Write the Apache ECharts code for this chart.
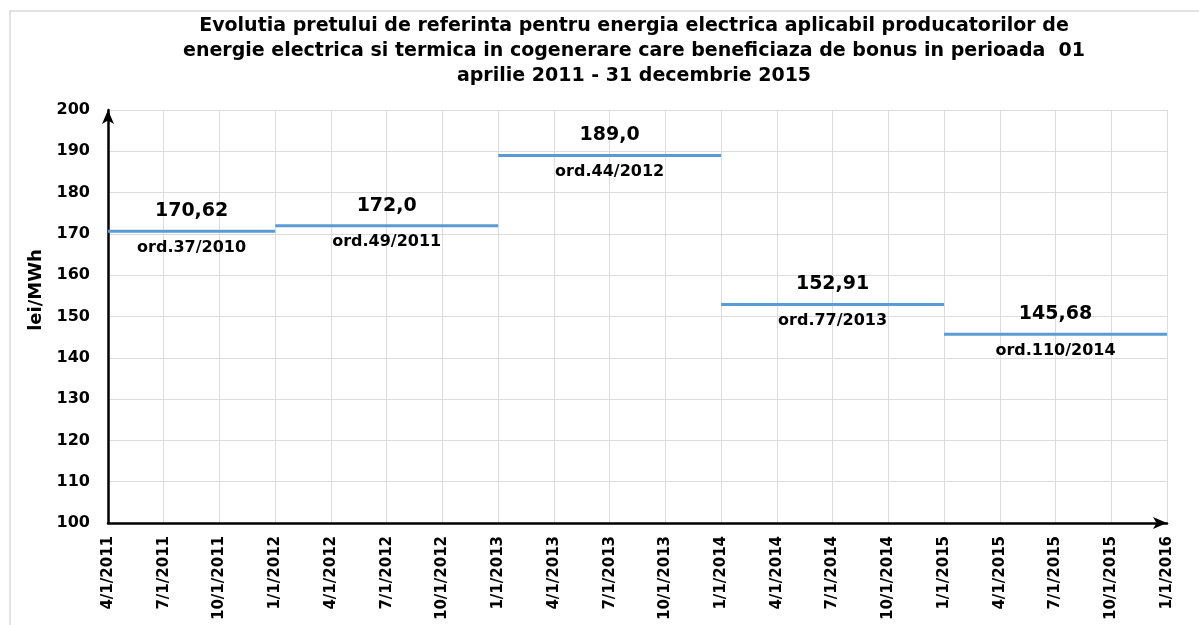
<!DOCTYPE html>
<html>
<head>
<meta charset="utf-8">
<script src="https://cdn.jsdelivr.net/npm/echarts@6/dist/echarts.min.js"></script>
<style>
  html, body { margin: 0; padding: 0; background: #fff; }
  #main { width: 1199px; height: 625px; }
</style>
</head>
<body>
<div id="main"></div>
<script>
var dates = ['4/1/2011', '7/1/2011', '10/1/2011', '1/1/2012', '4/1/2012', '7/1/2012', '10/1/2012',
  '1/1/2013', '4/1/2013', '7/1/2013', '10/1/2013', '1/1/2014', '4/1/2014', '7/1/2014', '10/1/2014',
  '1/1/2015', '4/1/2015', '7/1/2015', '10/1/2015', '1/1/2016'];
var prices = [170.62, 172.0, 189.0, 152.91, 145.68];
var priceLabels = ['170,62', '172,0', '189,0', '152,91', '145,68'];
var orders = ['ord.37/2010', 'ord.49/2011', 'ord.44/2012', 'ord.77/2013', 'ord.110/2014'];
var startIdx = [0, 3, 7, 11, 15];
var endIdx = [3, 7, 11, 15, 19];

var FONT = '"DejaVu Sans", sans-serif';
var myChart = echarts.init(document.getElementById('main'));

var series = [];
for (let i = 0; i < prices.length; i++) {
  series.push({
    type: 'line',
    data: [[startIdx[i], prices[i]], [endIdx[i], prices[i]]],
    symbol: 'none',
    lineStyle: { color: '#5b9bd5', width: 3 },
    z: 3
  });
}
let valuePts = [];
let orderPts = [];
for (let i = 0; i < prices.length; i++) {
  let mid = (startIdx[i] + endIdx[i]) / 2;
  valuePts.push({ value: [mid, prices[i]], name: priceLabels[i] });
  orderPts.push({ value: [mid, prices[i]], name: orders[i] });
}
series.push({
  type: 'scatter',
  data: valuePts,
  symbolSize: 1,
  itemStyle: { color: 'transparent', opacity: 1 },
  label: {
    show: true,
    position: 'top',
    distance: 10,
    formatter: '{v|{b}}',
    rich: {
      v: { color: '#000', fontFamily: FONT, fontWeight: 'bold', fontSize: 19 }
    }
  },
  z: 5
});
series.push({
  type: 'scatter',
  data: orderPts,
  symbolSize: 1,
  itemStyle: { color: 'transparent', opacity: 1 },
  label: {
    show: true,
    position: 'bottom',
    distance: 8,
    formatter: '{o|{b}}',
    rich: {
      o: { color: '#000', fontFamily: FONT, fontWeight: 'bold', fontSize: 16 }
    }
  },
  z: 5
});

myChart.setOption({
  animation: false,
  backgroundColor: '#fff',
  title: {
    text: 'Evolutia pretului de referinta pentru energia electrica aplicabil producatorilor de\nenergie electrica si termica in cogenerare care beneficiaza de bonus in perioada  01\naprilie 2011 - 31 decembrie 2015',
    left: 629,
    top: 9,
    textAlign: 'center',
    textStyle: {
      fontFamily: FONT,
      fontWeight: 'bold',
      fontSize: 19,
      lineHeight: 25,
      color: '#000'
    }
  },
  graphic: [
    {
      type: 'rect',
      shape: { x: 10, y: 11, width: 1200, height: 630 },
      style: { fill: 'none', stroke: '#d9d9d9', lineWidth: 1.5 },
      silent: true
    },
    {
      type: 'text',
      x: 36,
      y: 290,
      rotation: Math.PI / 2,
      style: {
        text: 'lei/MWh',
        fontFamily: FONT,
        fontSize: 18,
        fontWeight: 'bold',
        fill: '#000',
        align: 'center',
        verticalAlign: 'middle'
      }
    }
  ],
  grid: {
    left: 108,
    right: 32,
    top: 110,
    bottom: 102
  },
  xAxis: {
    type: 'value',
    min: 0,
    max: dates.length - 1,
    interval: 1,
    axisLine: {
      show: true,
      lineStyle: { color: '#000', width: 2.5 },
      symbol: ['none', 'arrow'],
      symbolSize: [9, 14]
    },
    axisTick: { show: false },
    splitLine: { show: true, lineStyle: { color: '#dcdcdc', width: 1 } },
    axisLabel: {
      rotate: 90,
      margin: 13,
      color: '#000',
      fontFamily: FONT,
      fontWeight: 'bold',
      fontSize: 15,
      showMaxLabel: true,
      showMinLabel: true,
      formatter: function (v) {
        return dates[v];
      }
    }
  },
  yAxis: {
    type: 'value',
    min: 100,
    max: 200,
    interval: 10,
    axisLine: {
      show: true,
      lineStyle: { color: '#000', width: 2.5 },
      symbol: ['none', 'arrow'],
      symbolSize: [9, 14]
    },
    axisTick: { show: false },
    splitLine: { show: true, lineStyle: { color: '#dcdcdc', width: 1 } },
    axisLabel: {
      margin: 18,
      color: '#000',
      fontFamily: FONT,
      fontWeight: 'bold',
      fontSize: 16
    }
  },
  series: series
});
</script>
</body>
</html>
